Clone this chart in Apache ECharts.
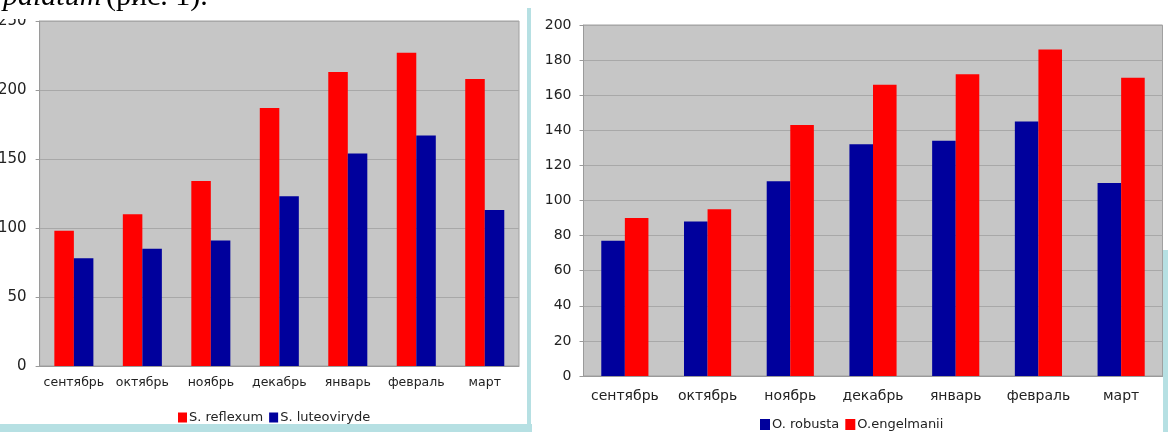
<!DOCTYPE html>
<html>
<head>
<meta charset="utf-8">
<script src="https://cdn.jsdelivr.net/npm/echarts@6/dist/echarts.min.js"></script>
<style>
  html, body { margin: 0; padding: 0; background: #ffffff; overflow: hidden; }
  #chart { position: absolute; left: -5px; top: 0; width: 1178px; height: 432px; }
</style>
</head>
<body>
<div id="chart"></div>
<script>
// Months shared by both panels
const months = ['сентябрь', 'октябрь', 'ноябрь', 'декабрь', 'январь', 'февраль', 'март'];

// Left panel: Sedum species
const sReflexum = [98, 110, 134, 187, 213, 227, 208];
const sLuteoviryde = [78, 85, 91, 123, 154, 167, 113];

// Right panel: Opuntia species
const oRobusta = [77, 88, 111, 132, 134, 145, 110];
const oEngelmanii = [90, 95, 143, 166, 172, 186, 170];

// Value axis ranges
const leftAxisMax = 250, leftAxisStep = 50;
const rightAxisMax = 200, rightAxisStep = 20;

const RED = '#ff0000';
const NAVY = '#00009c';
const PLOT_BG = '#c6c6c6';
const GRID_LINE = '#a8a8a8';
const FRAME = '#b6e0e3';
const TXT = '#222222';
const FONT = '"DejaVu Sans", Verdana, sans-serif';

const chart = echarts.init(document.getElementById('chart'), null, { renderer: 'canvas' });

function valueAxis(gridIndex, max, step, fontSize, margin) {
  return {
    type: 'value', gridIndex, min: 0, max, interval: step,
    axisLine: { show: true, lineStyle: { color: '#9a9a9a' } },
    axisTick: { show: true, length: 4, lineStyle: { color: '#9a9a9a' } },
    splitLine: { show: true, lineStyle: { color: GRID_LINE, width: 1 } },
    axisLabel: { color: TXT, fontFamily: FONT, fontSize, margin }
  };
}

function categoryAxis(gridIndex, fontSize, margin) {
  return {
    type: 'category', gridIndex, data: months,
    axisLine: { show: true, lineStyle: { color: '#9a9a9a' } },
    axisTick: { show: false },
    axisLabel: { color: TXT, fontFamily: FONT, fontSize, margin, interval: 0 }
  };
}

function bars(name, data, color, axisIndex) {
  return {
    name, type: 'bar', data,
    xAxisIndex: axisIndex, yAxisIndex: axisIndex,
    barGap: '0%', barCategoryGap: '43%',
    itemStyle: { color },
    emphasis: { disabled: true },
    animation: false
  };
}

chart.setOption({
  animation: false,
  grid: [
    { left: 44, top: 21, width: 480, height: 345, show: true,
      backgroundColor: PLOT_BG, borderColor: '#a0a0a0', borderWidth: 1 },
    { left: 588.5, top: 25, width: 579, height: 351, show: true,
      backgroundColor: PLOT_BG, borderColor: '#a0a0a0', borderWidth: 1 }
  ],
  xAxis: [categoryAxis(0, 12.5, 10), categoryAxis(1, 14, 13)],
  yAxis: [valueAxis(0, leftAxisMax, leftAxisStep, 15, 13), valueAxis(1, rightAxisMax, rightAxisStep, 14, 12)],
  legend: [
    { data: ['S. reflexum', 'S. luteoviryde'], left: 178, top: 406,
      itemWidth: 9, itemHeight: 10, itemGap: 6, icon: 'rect',
      textStyle: { color: TXT, fontFamily: FONT, fontSize: 13, padding: [0, 0, 0, -3] } },
    { data: ['O. robusta', 'O.engelmanii'], left: 760, top: 413,
      itemWidth: 10, itemHeight: 11, itemGap: 6, icon: 'rect',
      textStyle: { color: TXT, fontFamily: FONT, fontSize: 13, padding: [0, 0, 0, -3] } }
  ],
  series: [
    bars('S. reflexum', sReflexum, RED, 0),
    bars('S. luteoviryde', sLuteoviryde, NAVY, 0),
    bars('O. robusta', oRobusta, NAVY, 1),
    bars('O.engelmanii', oEngelmanii, RED, 1)
  ],
  graphic: [
    // page frames around the two chart boxes
    { type: 'rect', z: 50, shape: { x: 0, y: 424, width: 537, height: 8 }, style: { fill: FRAME } },
    { type: 'rect', z: 50, shape: { x: 532, y: 8, width: 4, height: 424 }, style: { fill: FRAME } },
    { type: 'rect', z: 50, shape: { x: 1168, y: 250, width: 5, height: 182 }, style: { fill: FRAME } },
    // paper strip above the left panel
    { type: 'rect', z: 60, shape: { x: 0, y: 0, width: 42, height: 19 }, style: { fill: '#ffffff' } },
    // end of the preceding text line
    { type: 'text', z: 70, left: 8, top: -18,
      style: { text: 'palatum', fill: '#000000',
               font: 'italic 30px "Liberation Serif", "Times New Roman", serif' } },
    { type: 'text', z: 70, left: 111, top: -18,
      style: { text: '(рис. 1).', fill: '#000000',
               font: '30px "Liberation Serif", "Times New Roman", serif' } }
  ]
});
</script>
</body>
</html>
